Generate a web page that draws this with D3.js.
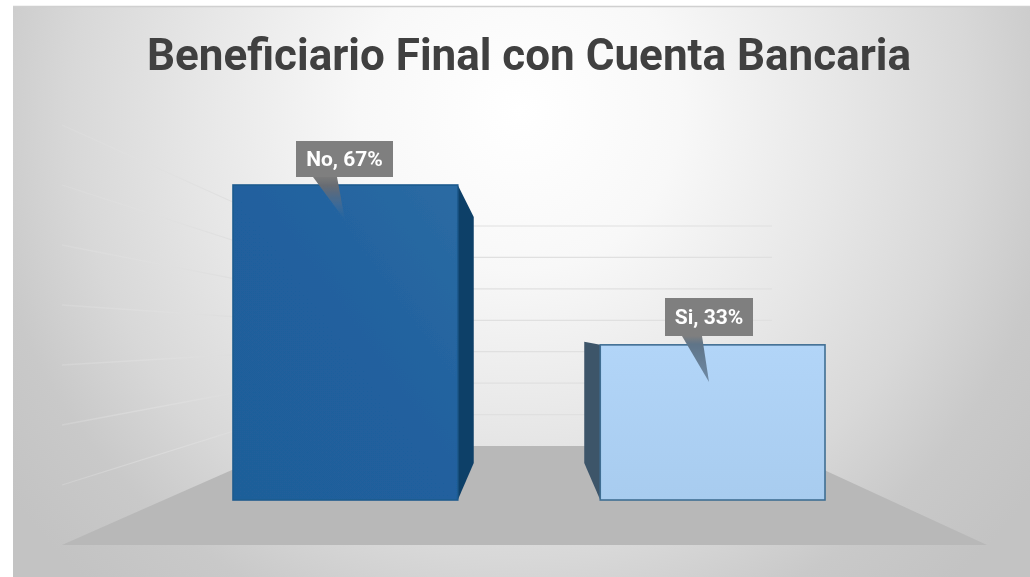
<!DOCTYPE html>
<html><head><meta charset="utf-8">
<script src="https://cdn.jsdelivr.net/npm/d3@7"></script>
<style>html,body{margin:0;padding:0;background:#fff}svg{display:block}</style></head>
<body><div id="chart"></div>
<script>
const titleText = "Beneficiario Final con Cuenta Bancaria";
const categories = ["No", "Si"];
const values = [67, 33];
const tickValues = [0, 10, 20, 30, 40, 50, 60, 70];

const W = 1030, H = 577;
const svg = d3.select("#chart").append("svg").attr("width", W).attr("height", H);
const defs = svg.append("defs");

function linGrad(id, x1, y1, x2, y2, stops, user) {
  const g = defs.append("linearGradient").attr("id", id)
    .attr("x1", x1).attr("y1", y1).attr("x2", x2).attr("y2", y2);
  if (user) g.attr("gradientUnits", "userSpaceOnUse");
  stops.forEach(s => g.append("stop").attr("offset", s[0]).attr("stop-color", s[1]).attr("stop-opacity", s[2] === undefined ? 1 : s[2]));
}
const bg = defs.append("radialGradient").attr("id", "bg").attr("gradientUnits", "userSpaceOnUse")
  .attr("cx", 520).attr("cy", 110).attr("r", 640);
[[0, "#ffffff"], [.25, "#f8f8f8"], [.5, "#e7e7e7"], [.7, "#d8d8d8"], [.85, "#c9c9c9"], [1, "#c3c3c3"]].forEach(s => bg.append("stop").attr("offset", s[0]).attr("stop-color", s[1]));
linGrad("barNo", 1, 0, 0, 1, [[0, "#2b6ba3"], [.5, "#20609e"], [1, "#1f5e99"]]);
linGrad("barSi", .5, 0, .5, 1, [[0, "#b2d5f8"], [1, "#a8ccef"]]);
linGrad("wallLine", 62, 0, 286, 0, [[0, "#e2e2e2", .3], [.4, "#e0e0e0", .6], [1, "#dcdcdc", 1]], true);
linGrad("ptrNo", 0, 0, 0, 1, [[0, "#7a7a7a"], [.2, "#686c72"], [.65, "#3f6a96", .9], [1, "#2a66a0", .3]]);
linGrad("ptrSi", 0, 0, 0, 1, [[0, "#7f7f7f"], [.18, "#5f7488"], [1, "#6f8aa5"]]);
const soft = defs.append("filter").attr("id", "soft");
soft.append("feGaussianBlur").attr("stdDeviation", .5);

const root = svg.append("g").attr("filter", "url(#soft)");

// chart area
root.append("rect").attr("x", 13).attr("y", 7).attr("width", W - 13).attr("height", H - 7).attr("fill", "url(#bg)");
root.append("line").attr("x1", 13).attr("x2", W).attr("y1", 6.5).attr("y2", 6.5).attr("stroke", "#d0d0d0").attr("stroke-width", 1.4);

// projection scales: front plane of the bars, back of the bars, back wall, front of the side wall
const x = d3.scaleBand().domain(categories).range([233, 825]).paddingInner(.388).paddingOuter(0);
const yFront = d3.scaleLinear().domain([0, 67]).range([500, 185]);
const yDepth = d3.scaleLinear().domain([0, 67]).range([463, 217]);
const yWall = d3.scaleLinear().domain([0, 70]).range([446, 226]);
const yEdge = d3.scaleLinear().domain([0, 70]).range([545, 125]);
const wallL = 286, wallR = 772, edgeL = 62, edgeR = 987, depth = 16;

// floor
root.append("polygon")
  .attr("points", [[edgeL, yEdge(0)], [wallL, yWall(0)], [wallR, yWall(0)], [edgeR, yEdge(0)]].join(" "))
  .attr("fill", "#b8b8b8");

// gridlines
root.selectAll(".grid").data(tickValues.slice(1)).join("line").attr("class", "grid")
  .attr("x1", wallL).attr("x2", wallR).attr("y1", d => yWall(d)).attr("y2", d => yWall(d) + .01)
  .attr("stroke", "#e0e0e0").attr("stroke-width", 1.2);
root.selectAll(".side").data(tickValues.slice(1)).join("line").attr("class", "side")
  .attr("x1", edgeL).attr("x2", wallL).attr("y1", d => yEdge(d)).attr("y2", d => yWall(d))
  .attr("stroke", "url(#wallLine)").attr("stroke-width", 1.3);

// bars
const data = categories.map((c, i) => ({ c, v: values[i], i }));
const bars = root.selectAll(".bar").data(data).join("g").attr("class", "bar");
const sideX = d => d.i === 0 ? x(d.c) + x.bandwidth() : x(d.c);
const sideDir = d => d.i === 0 ? depth : -depth;
bars.append("polygon")
  .attr("points", d => [[sideX(d), yFront(d.v)], [sideX(d) + sideDir(d), yDepth(d.v)], [sideX(d) + sideDir(d), yDepth(0)], [sideX(d), yFront(0)]].join(" "))
  .attr("fill", d => d.i === 0 ? "#114068" : "#3c5469");
bars.append("rect")
  .attr("x", d => x(d.c)).attr("y", d => yFront(d.v))
  .attr("width", x.bandwidth()).attr("height", d => yFront(0) - yFront(d.v))
  .attr("fill", d => d.i === 0 ? "url(#barNo)" : "url(#barSi)")
  .attr("stroke", d => d.i === 0 ? "#1d5a8e" : "#3f6e93").attr("stroke-width", 1.6);

// callouts
const boxW = [97, 88], boxH = [36, 38], boxTop = [141, 298];
const labels = root.selectAll(".lab").data(data).join("g").attr("class", "lab");
labels.append("polygon")
  .attr("points", d => {
    const b = boxTop[d.i] + boxH[d.i];
    const base = d.i === 0 ? [313, 337, 345, 220] : [682, 702, 709, 382];
    return [[base[0], b], [base[1], b], [base[2], base[3]]].join(" ");
  })
  .attr("fill", d => d.i === 0 ? "url(#ptrNo)" : "url(#ptrSi)");
const boxX = d => d.i === 0 ? 296 : 665;
labels.append("rect").attr("x", boxX).attr("y", d => boxTop[d.i])
  .attr("width", d => boxW[d.i]).attr("height", d => boxH[d.i]).attr("fill", "#7f7f7f");
labels.append("text").attr("x", d => boxX(d) + boxW[d.i] / 2).attr("y", d => boxTop[d.i] + boxH[d.i] / 2 + 7)
  .attr("text-anchor", "middle").attr("fill", "#fff")
  .attr("font-family", "Roboto, sans-serif").attr("font-weight", 700).attr("font-size", 21)
  .text(d => `${d.c}, ${d.v}%`);

// title
root.append("text").attr("x", 529).attr("y", 70).attr("text-anchor", "middle")
  .attr("font-family", "Roboto, sans-serif").attr("font-weight", 700).attr("font-size", 45)
  .attr("fill", "#404040").attr("textLength", 764).attr("lengthAdjust", "spacingAndGlyphs").text(titleText);
</script></body></html>
